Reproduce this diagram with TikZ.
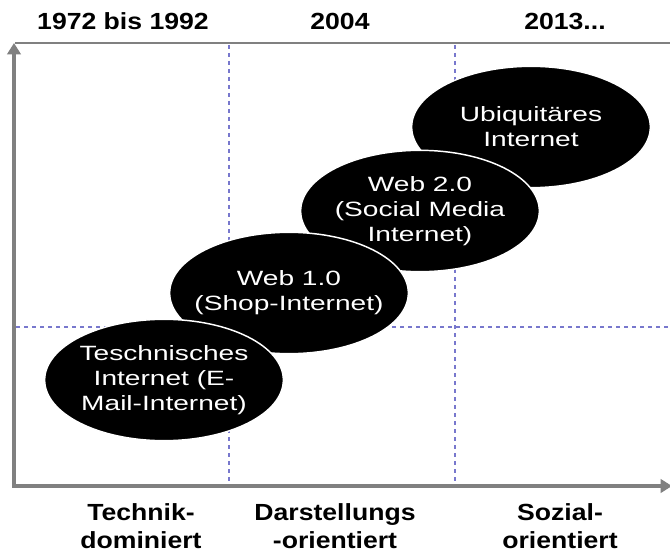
\documentclass[tikz,border=0pt]{standalone}
\usepackage{fontspec}
\setmainfont{Liberation Sans}
\newfontfamily\ellfont[FakeStretch=1.36]{Liberation Sans}
\newfontfamily\erafont[FakeStretch=1.14]{Liberation Sans}
\usetikzlibrary{shapes.geometric,arrows.meta}

\begin{document}
\begin{tikzpicture}[x=0.75pt,y=-0.75pt,
    phase/.style={ellipse, fill=black, draw=white, line width=1.1pt,
      minimum width=179pt, minimum height=91pt, inner sep=-12pt,
      text=white, align=center, font=\ellfont\fontsize{15.5}{18.8}\selectfont},
    axis/.style={draw=gray, line width=2.8pt},
    grid/.style={draw={rgb,255:red,120;green,120;blue,205}, line width=0.8pt,
      dash pattern=on 3pt off 3pt},
    era/.style={font=\erafont\bfseries\fontsize{17.5}{21}\selectfont, align=center}]
  \useasboundingbox (0,0) rectangle (670,552);

  % Define axes
  \coordinate (o) at (14,486);
  \coordinate (ytop) at (14,43);
  \coordinate (xend) at (672,486);
  \coordinate (lt) at (15,43);
  \coordinate (rt) at (670,43);

  % Grid lines
  \coordinate (g1t) at (229,45);
  \coordinate (g1b) at (229,485);
  \coordinate (g2t) at (455,45);
  \coordinate (g2b) at (455,485);
  \coordinate (hl) at (16,327);
  \coordinate (hr) at (670,327);
  \draw[grid] (g1t) -- (g1b);
  \draw[grid] (g2t) -- (g2b);
  \draw[grid] (hl) -- (hr);

  \draw[axis, line width=1.6pt] (lt) -- (rt);
  \draw[axis, -{Triangle[length=8.5pt,width=10pt]}] (o) -- (ytop);
  \draw[axis, -{Triangle[length=8.5pt,width=10pt]}] ([xshift=-1.4pt]o) -- (xend);

  % Define nodes
  \node[phase] (ubi) at (531,127) {Ubiquitäres\\Internet};
  \node[phase] (web2) at (420,211) {Web 2.0\\(Social Media\\Internet)};
  \node[phase] (web1) at (289,293) {Web 1.0\\(Shop-Internet)};
  \node[phase] (tech) at (164,380) {Teschnisches\\Internet (E-\\Mail-Internet)};

  % Labels
  \node[era] (t1) at (123,21) {1972 bis 1992};
  \node[era] (t2) at (340,21) {2004};
  \node[era] (t3) at (565,21) {2013...};
  \node[era] (b1) at (141,526) {Technik-\\dominiert};
  \node[era] (b2) at (335,526) {Darstellungs\\-orientiert};
  \node[era] (b3) at (560,526) {Sozial-\\orientiert};
\end{tikzpicture}
\end{document}
